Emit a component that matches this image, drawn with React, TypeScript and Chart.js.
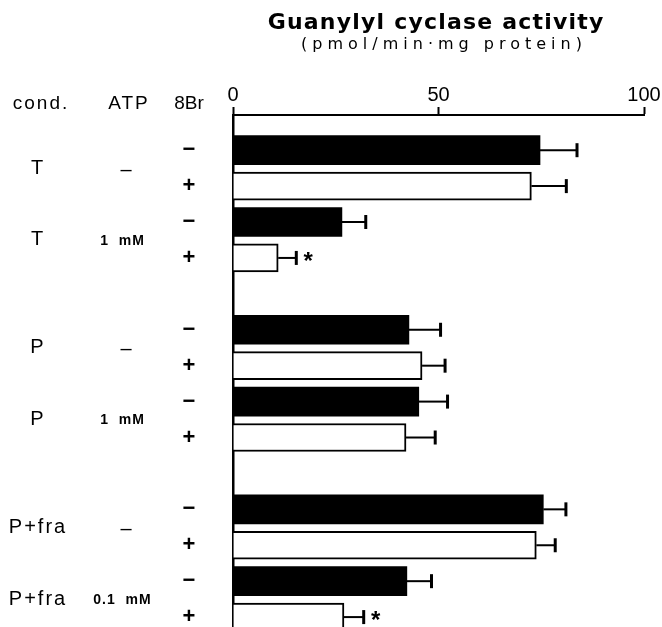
import React, { useEffect, useRef } from 'react';
import { Chart, registerables } from 'chart.js';

Chart.register(...registerables);

// ---- data ----
const conditions = ['T', 'T', 'P', 'P', 'P+fra', 'P+fra'];
const atpLabels = ['–', '1  mM', '–', '1  mM', '–', '0.1  mM'];
const rowPositions = [0, 2, 5, 7, 10, 12];
const minusValues = [74.7, 26.5, 42.8, 45.2, 75.5, 42.3];
const minusErrors = [9.0, 5.8, 7.7, 7.0, 5.5, 6.0];
const plusValues = [72.6, 11.0, 46.0, 42.1, 73.8, 27.0];
const plusErrors = [8.5, 4.4, 5.6, 7.1, 4.6, 4.8];
const plusSignificant = [false, true, false, false, false, true];
const minusSignificant = [false, false, false, false, false, false];
const xTicks = [0, 50, 100];
const headers = ['cond.', 'ATP', '8Br'];
const titleText = 'Guanylyl cyclase activity';
const subtitleText = '(pmol/min·mg protein)';

const CANVAS_W = 700;
const CANVAS_H = 670;

function drawText(
  ctx: CanvasRenderingContext2D,
  s: string,
  x: number,
  y: number,
  font: string,
  spacing = 0,
  align: CanvasTextAlign = 'center'
) {
  ctx.save();
  ctx.font = font;
  (ctx as any).letterSpacing = spacing + 'px';
  ctx.fillStyle = '#000';
  ctx.textBaseline = 'middle';
  const w = ctx.measureText(s).width;
  ctx.textAlign = 'left';
  let x0 = x;
  if (align === 'center') x0 = x - (w - spacing) / 2;
  else if (align === 'right') x0 = x - (w - spacing);
  ctx.fillText(s, x0, y);
  ctx.restore();
}

const errorBarPlugin = {
  id: 'errorBars',
  afterDatasetsDraw(chart: any) {
    const ctx = chart.ctx as CanvasRenderingContext2D;
    const xScale = chart.scales.x;
    chart.data.datasets.forEach((ds: any, i: number) => {
      const meta = chart.getDatasetMeta(i);
      meta.data.forEach((el: any, j: number) => {
        const v = ds.data[j].x;
        const e = ds.errors[j];
        const xEnd = xScale.getPixelForValue(v + e);
        const y = el.y;
        ctx.save();
        ctx.strokeStyle = '#000';
        ctx.lineWidth = 2;
        ctx.beginPath();
        ctx.moveTo(el.x, y);
        ctx.lineTo(xEnd, y);
        ctx.stroke();
        ctx.lineWidth = 3;
        ctx.beginPath();
        ctx.moveTo(xEnd, y - 7);
        ctx.lineTo(xEnd, y + 7);
        ctx.stroke();
        ctx.restore();
        if (ds.sig[j]) {
          drawText(ctx, '*', xEnd + 12, y + 4, 'bold 24px "Liberation Sans"');
        }
      });
    });
  },
};

const labelPlugin = {
  id: 'sideLabels',
  afterDraw(chart: any) {
    const ctx = chart.ctx as CanvasRenderingContext2D;
    const yScale = chart.scales.y;
    const area = chart.chartArea;
    const cx = (area.left + area.right) / 2;
    // titles
    drawText(ctx, titleText, cx - 3, 23, 'bold 22px "DejaVu Sans"', 1.2);
    drawText(ctx, subtitleText, cx + 3, 45, '16px "DejaVu Sans"', 5);
    // headers
    const hy = area.top - 11;
    drawText(ctx, headers[0], 40, hy, '19px "Liberation Sans"', 2);
    drawText(ctx, headers[1], 128, hy, '19px "Liberation Sans"', 2);
    drawText(ctx, headers[2], 189, hy, '19px "Liberation Sans"', 0);
    // group labels
    rowPositions.forEach((p, g) => {
      const y1 = yScale.getPixelForValue(p);
      const y2 = yScale.getPixelForValue(p + 1);
      const yc = (y1 + y2) / 2;
      drawText(ctx, conditions[g], 37, yc, '20px "Liberation Sans"', 2);
      const a = atpLabels[g];
      if (a === '–') drawText(ctx, a, 126, yc + 2, '20px "Liberation Sans"', 0);
      else drawText(ctx, a, 122, yc + 1, 'bold 14px "Liberation Sans"', 1);
    });
    // 8Br signs
    chart.data.datasets.forEach((ds: any, i: number) => {
      const meta = chart.getDatasetMeta(i);
      meta.data.forEach((el: any) => {
        drawText(ctx, ds.sign, 189, el.y, 'bold 22px "Liberation Sans"', 0);
      });
    });
  },
};

export default function App() {
  const ref = useRef<HTMLCanvasElement | null>(null);
  useEffect(() => {
    if (!ref.current) return;
    const chart = new Chart(ref.current, {
      type: 'bar',
      data: {
        datasets: [
          {
            label: '8Br −',
            data: minusValues.map((v, i) => ({ x: v, y: rowPositions[i] })),
            errors: minusErrors,
            sig: minusSignificant,
            sign: '−',
            backgroundColor: '#000',
            borderColor: '#000',
            borderWidth: 0,
            barThickness: 29,
          } as any,
          {
            label: '8Br +',
            data: plusValues.map((v, i) => ({ x: v, y: rowPositions[i] + 1 })),
            errors: plusErrors,
            sig: plusSignificant,
            sign: '+',
            backgroundColor: '#fff',
            borderColor: '#000',
            borderWidth: 2,
            barThickness: 28,
          } as any,
        ],
      },
      options: {
        indexAxis: 'y',
        responsive: false,
        animation: false,
        devicePixelRatio: 1,
        layout: { padding: { top: 60, left: 233, right: CANVAS_W - 644, bottom: 17 } },
        datasets: { bar: { grouped: false } } as any,
        plugins: { legend: { display: false }, tooltip: { enabled: false }, title: { display: false } },
        scales: {
          x: {
            type: 'linear',
            position: 'top',
            min: 0,
            max: 100,
            afterBuildTicks: (s: any) => {
              s.ticks = xTicks.map((v) => ({ value: v }));
            },
            ticks: {
              font: { family: 'Liberation Sans', size: 20 },
              color: '#000',
              padding: 0,
              maxRotation: 0,
              autoSkip: false,
            },
            grid: { drawOnChartArea: false, drawTicks: true, tickLength: 8, tickWidth: 2, tickColor: '#000' },
            border: { display: true, color: '#000', width: 2 },
            afterFit: (s: any) => {
              s.height = 55;
            },
          },
          y: {
            type: 'linear',
            position: 'left',
            reverse: true,
            offset: false,
            min: -0.98,
            max: 14,
            ticks: { display: false },
            grid: { display: true, offset: false, drawOnChartArea: false, drawTicks: false },
            border: { display: true, color: '#000', width: 2.5 },
            afterFit: (s: any) => {
              s.width = 0;
            },
          },
        } as any,
      },
      plugins: [errorBarPlugin, labelPlugin],
    } as any);
    return () => chart.destroy();
  }, []);
  return (
    <div
      style={{
        position: 'absolute',
        left: 0,
        top: 0,
        width: 662,
        height: 627,
        overflow: 'hidden',
        background: '#fff',
      }}
    >
      <canvas ref={ref} width={CANVAS_W} height={CANVAS_H} style={{ display: 'block', width: CANVAS_W, height: CANVAS_H }} />
    </div>
  );
}
